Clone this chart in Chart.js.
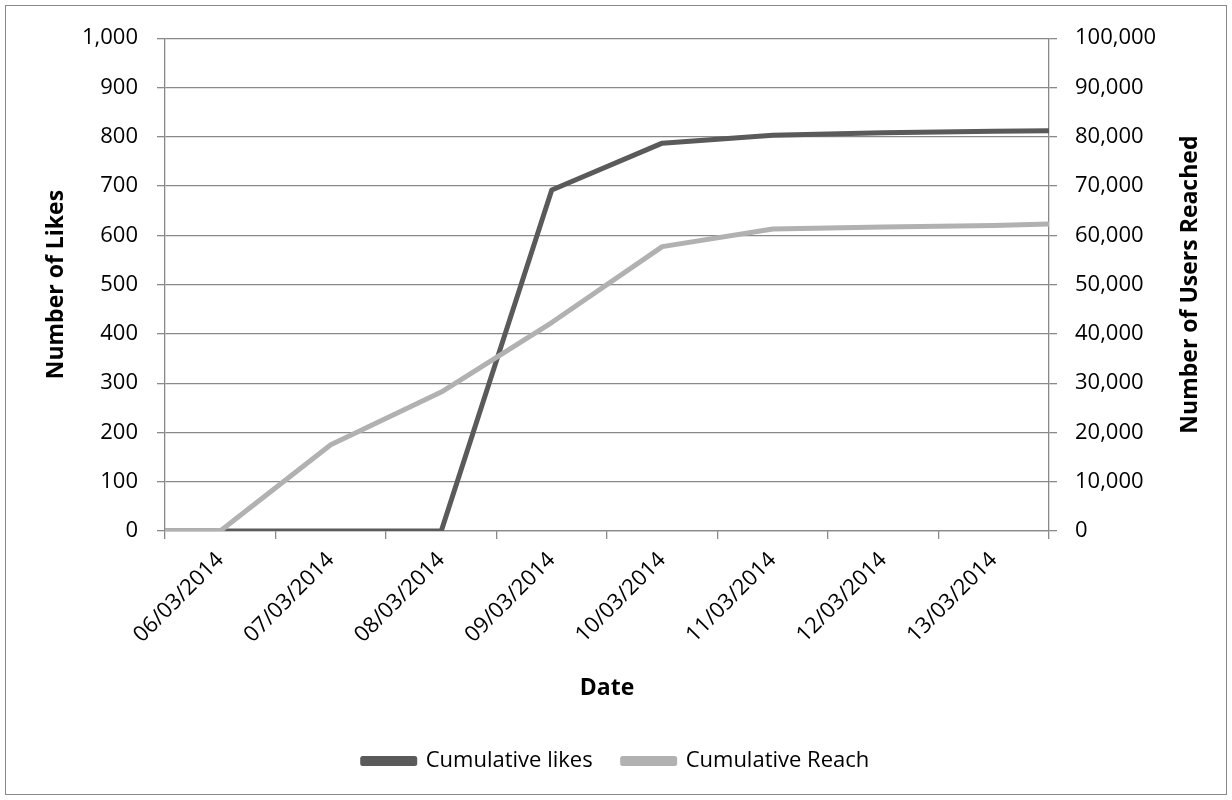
<!DOCTYPE html>
<html>
<head>
<meta charset="utf-8">
<script src="https://cdn.jsdelivr.net/npm/chart.js@4.4.1/dist/chart.umd.min.js"></script>
<style>
  html, body { margin: 0; padding: 0; background: #fff; }
  #frame { position: absolute; left: 5px; top: 5px; width: 1220px; height: 788px; border: 1px solid #888; }
  #wrap { position: absolute; left: 0; top: 0; width: 1220px; height: 788px; }
</style>
</head>
<body>
<div id="frame"><div id="wrap"><canvas id="c" width="1220" height="788"></canvas></div></div>
<script>
// ---- data ----
const categories = ['06/03/2014','07/03/2014','08/03/2014','09/03/2014','10/03/2014','11/03/2014','12/03/2014','13/03/2014'];
// point positions in category units (edge points at -0.5 and 7.5, category centres 0..7)
const pointPositions = [-0.5, 0, 1, 2, 3, 4, 5, 6, 7, 7.5];
const cumulativeLikes = [0, 0, 0, 0, 692, 787, 803, 808, 811, 812];
const cumulativeReach = [0, 0, 17500, 28200, 42300, 57700, 61300, 61700, 62000, 62300];
const likesTicks = [0, 100, 200, 300, 400, 500, 600, 700, 800, 900, 1000];
const reachTicks = [0, 10000, 20000, 30000, 40000, 50000, 60000, 70000, 80000, 90000, 100000];

const FONT = "'Open Sans', sans-serif";
const FS = 22;
const TFS = 23;
const GRID = '#898989';
Chart.defaults.font.family = FONT;
Chart.defaults.font.size = FS;
Chart.defaults.color = '#000';

const toPts = vals => vals.map((v, i) => ({ x: pointPositions[i], y: v }));

const rightTitle = {
  id: 'rightTitle',
  afterDraw(chart) {
    const ctx = chart.ctx;
    const area = chart.chartArea;
    ctx.save();
    ctx.translate(1184, (area.top + area.bottom) / 2);
    ctx.rotate(-Math.PI / 2);
    ctx.font = 'bold ' + TFS + 'px ' + FONT;
    ctx.fillStyle = '#000';
    ctx.textAlign = 'center';
    ctx.textBaseline = 'middle';
    ctx.fillText('Number of Users Reached', 0, 0);
    ctx.restore();
  }
};

new Chart(document.getElementById('c'), {
  type: 'line',
  data: {
    datasets: [
      { label: 'Cumulative likes', data: toPts(cumulativeLikes), xAxisID: 'xv', yAxisID: 'y',
        borderColor: '#5a5a5a', backgroundColor: '#5a5a5a', borderWidth: 5, pointRadius: 0, tension: 0,
        borderCapStyle: 'butt', borderJoinStyle: 'round', order: 2 },
      { label: 'Cumulative Reach', data: toPts(cumulativeReach), xAxisID: 'xv', yAxisID: 'y1',
        borderColor: '#b1b1b1', backgroundColor: '#b1b1b1', borderWidth: 5, pointRadius: 0, tension: 0,
        borderCapStyle: 'butt', borderJoinStyle: 'round', order: 1 }
    ]
  },
  options: {
    responsive: false,
    animation: false,
    layout: { padding: { top: 29, bottom: 12, left: 0, right: 0 } },
    plugins: {
      legend: {
        position: 'bottom',
        labels: { boxWidth: 52, boxHeight: 5, padding: 30, color: '#000', font: { size: FS },
                  sort: (a, b) => a.datasetIndex - b.datasetIndex }
      },
      tooltip: { enabled: false }
    },
    scales: {
      x: {
        type: 'category', labels: categories, offset: true, position: 'bottom',
        grid: { display: true, offset: true, drawOnChartArea: false, tickLength: 8, color: GRID, lineWidth: 1.3 },
        border: { display: true, color: GRID, width: 1.3 },
        ticks: { autoSkip: false, minRotation: 45, maxRotation: 45, padding: 8, color: '#000' },
        title: { display: true, text: 'Date', font: { size: TFS, weight: 'bold' }, color: '#000', padding: { top: 0, bottom: 18 } },
        afterFit(s) { s.height = 189; }
      },
      xv: {
        type: 'linear', display: false, min: -0.5, max: 7.5, position: 'bottom'
      },
      y: {
        position: 'left', min: 0, max: 1000,
        afterBuildTicks(s) { s.ticks = likesTicks.map(v => ({ value: v })); },
        grid: { color: GRID, lineWidth: 1.3, tickLength: 8 },
        border: { display: true, color: GRID, width: 1.3 },
        ticks: { padding: 19, color: '#000', callback: v => v.toLocaleString('en-US') },
        title: { display: true, text: 'Number of Likes', font: { size: TFS, weight: 'bold' }, color: '#000', padding: { top: 37, bottom: 0 } },
        afterFit(s) { s.width = 159; }
      },
      y1: {
        position: 'right', min: 0, max: 100000,
        afterBuildTicks(s) { s.ticks = reachTicks.map(v => ({ value: v })); },
        grid: { drawOnChartArea: false, color: GRID, lineWidth: 1.3, tickLength: 8 },
        border: { display: true, color: GRID, width: 1.3 },
        ticks: { padding: 18, color: '#000', callback: v => v.toLocaleString('en-US') },
        title: { display: false },
        afterFit(s) { s.width = 177; }
      }
    }
  },
  plugins: [rightTitle]
});
</script>
</body>
</html>
